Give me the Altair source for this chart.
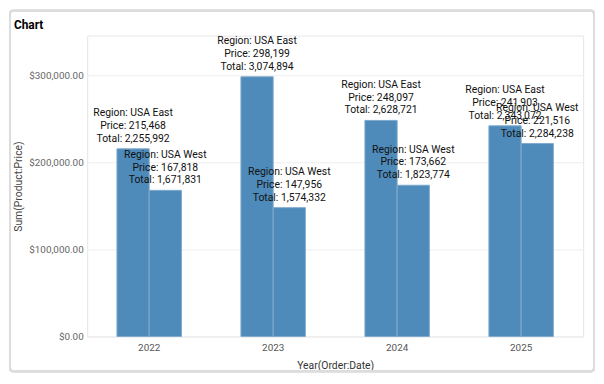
import altair as alt
import pandas as pd

years = ["2022", "2022", "2023", "2023", "2024", "2024", "2025", "2025"]
regions = ["USA East", "USA West"] * 4
prices = [215468, 167818, 298199, 147956, 248097, 173662, 241903, 221516]
totals = [2255992, 1671831, 3074894, 1574332, 2628721, 1823774, 2343072, 2284238]

df = pd.DataFrame({"year": years, "region": regions, "price": prices, "total": totals})

FONT = "Roboto"
FS = 10

x = alt.X("year:N", title="Year(Order:Date)",
          scale=alt.Scale(paddingInner=0.48, paddingOuter=0.24),
          axis=alt.Axis(labelAngle=0, ticks=False, domain=False, labelPadding=6,
                        labelColor="#555555", labelFontSize=FS, titleColor="#333333",
                        titleFontSize=FS + 0.5, titleFontWeight="normal", titlePadding=8))
xo = alt.XOffset("region:N", scale=alt.Scale(paddingInner=0, paddingOuter=0))
y = alt.Y("price:Q", title="Sum(Product:Price)",
          scale=alt.Scale(domain=[0, 345500], nice=False),
          axis=alt.Axis(values=[0, 100000, 200000, 300000], format="$,.2f",
                        ticks=False, domain=False, labelPadding=4,
                        labelColor="#666666", labelFontSize=FS, titleColor="#444444",
                        titleFontSize=FS + 0.5, titleFontWeight="normal", titlePadding=5,
                        gridColor="#eeeeee"))

bars = alt.Chart(df).mark_bar(color="#4e8bba", stroke="#80aacd", strokeWidth=1).encode(
    x=x, xOffset=xo, y=y
)

labels = alt.Chart(df).transform_calculate(
    label="['Region: ' + datum.region, 'Price: ' + format(datum.price, ','), 'Total: ' + format(datum.total, ',')]"
).mark_text(baseline="bottom", align="center", dy=-31, fontSize=FS + 0.5, lineHeight=13,
            color="#111111", font=FONT).encode(
    x=x, xOffset=xo, y=y, text="label:N"
)

frame = alt.Chart(df).mark_rect(fill="transparent", stroke="#dddddd", strokeWidth=2,
                                cornerRadius=3, clip=False).encode(
    x=alt.value(-78), x2=alt.value(512), y=alt.value(-25), y2=alt.value(339)
)

chart = alt.layer(frame, bars, labels).properties(
    width=501, height=304,
    title=alt.TitleParams("Chart", anchor="start", frame="group", dx=-74, offset=-34,
                          baseline="bottom", fontSize=12, fontWeight="bold", font=FONT,
                          color="#000000"),
    autosize=alt.AutoSizeParams(type="none"),
    padding={"left": 80, "top": 26, "right": 13, "bottom": 36},
).configure(font=FONT).configure_view(stroke="#e6e6e6")

chart.save("out.html", embed_options={"renderer": "svg", "actions": False})
